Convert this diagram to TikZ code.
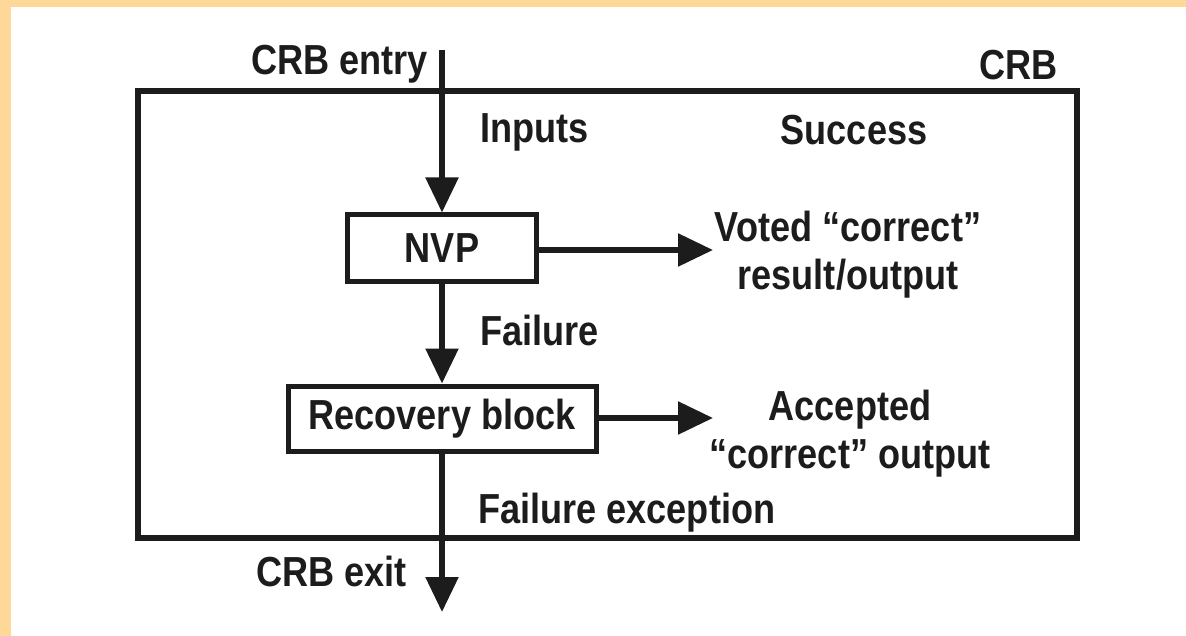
\documentclass[tikz,border=0pt]{standalone}
\usepackage{fontspec}
\setmainfont{Liberation Sans}[FakeStretch=0.86]
\usetikzlibrary{arrows.meta}

\definecolor{ink}{RGB}{28,28,28}
\definecolor{peach}{RGB}{254,216,152}

\tikzset{
  lbl/.style={inner sep=0pt, text=ink, font=\fontsize{42}{48}\selectfont\bfseries},
  blockbox/.style={draw=ink, line width=5pt, fill=white, inner sep=0pt,
    text=ink, font=\fontsize{42}{48}\selectfont\bfseries},
  crbbox/.style={draw=ink, line width=6pt, inner sep=0pt},
  flow/.style={draw=ink, line width=5.5pt,
    -{Triangle[length=35pt, width=32pt]}}
}

\begin{document}
\begin{tikzpicture}[x=1pt, y=-1pt]
  % page and side strips
  \useasboundingbox (0,0) rectangle (1186,636);
  \fill[white] (0,0) rectangle (1186,636);
  \fill[peach] (0,0) rectangle (11,636);
  \fill[peach] (0,0) rectangle (1186,7);

  % enclosing CRB block
  \node[crbbox, minimum width=939pt, minimum height=447pt] (crb) at (607.5,314.5) {};

  % processing blocks
  \node[blockbox, minimum width=189pt, minimum height=67pt] (nvp) at (442,248.5) {NVP};
  \node[blockbox, minimum width=308pt, minimum height=65pt] (rb) at (442,418.5) {Recovery block};

  % entry and exit points
  \coordinate (entry) at (442,50);
  \coordinate (exit) at (442,612);
  \coordinate (voted) at (713,250);
  \coordinate (accepted) at (713,418);

  % connectors
  \draw[flow] (entry) -- (nvp.north);
  \draw[flow] (nvp.south) -- (rb.north);
  \draw[flow] (rb.south) -- (exit);
  \draw[flow] (nvp.east |- voted) -- (voted);
  \draw[flow] (rb.east |- accepted) -- (accepted);

  % labels
  \node[lbl, anchor=base east] (lentry) at (428,75) {CRB entry};
  \node[lbl, anchor=base east] (lcrb) at (1058,80) {CRB};
  \node[lbl, anchor=base west] (linputs) at (480,143) {Inputs};
  \node[lbl, anchor=base] (lsuccess) at (854,145) {Success};
  \node[lbl, anchor=base west] (lfail) at (480,345) {Failure};
  \node[lbl, anchor=base west] (lfailex) at (478,523) {Failure exception};
  \node[lbl, anchor=base east] (lexit) at (407,586) {CRB exit};
  \node[lbl, align=center, anchor=north] (lvoted) at (848,211)
    {Voted “correct”\\result/output};
  \node[lbl, align=center, anchor=north] (laccepted) at (850,390)
    {Accepted\\“correct” output};
\end{tikzpicture}
\end{document}
